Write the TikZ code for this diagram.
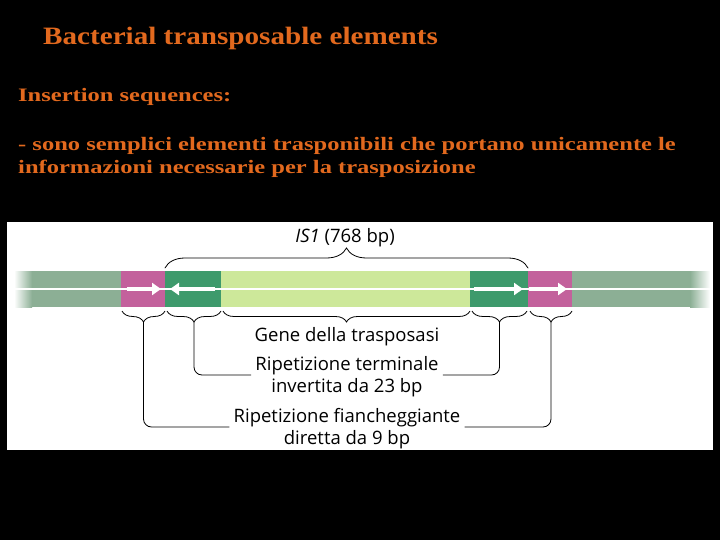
\documentclass[tikz,border=0pt]{standalone}
\usepackage{graphicx}
\usepackage{fontspec}
\setmainfont{Liberation Serif}
\newfontfamily\diagfont{Open Sans}
\usetikzlibrary{arrows.meta,decorations.pathreplacing}
\definecolor{orng}{HTML}{E2691E}
\definecolor{magen}{HTML}{C3619C}
\definecolor{dgreen}{HTML}{3E9A6C}
\definecolor{lgreen}{HTML}{CDE89A}
\definecolor{ggreen}{HTML}{8CAF95}
\newcommand{\wideA}[1]{\scalebox{1.165}[1]{#1}}
\newcommand{\wideB}[1]{\scalebox{1.29}[1]{#1}}
\tikzset{
  title/.style={anchor=base west, inner sep=0pt, text=orng, font=\bfseries\fontsize{25}{30}\selectfont},
  body/.style={anchor=base west, inner sep=0pt, text=orng, font=\bfseries\fontsize{19}{23}\selectfont},
  lab/.style={anchor=base, inner sep=0pt, font=\diagfont\fontsize{18.5}{22}\selectfont},
  warrow/.style={white, line width=4pt, -{Triangle[length=9pt,width=12pt]}},
  bracetop/.style={decorate, decoration={brace, amplitude=20pt}, thick, line cap=round},
  bracebot/.style={decorate, decoration={brace, mirror, amplitude=11pt}, thick},
  conn/.style={thick, rounded corners=8pt}
}
\begin{document}
\begin{tikzpicture}[x=1pt,y=-1pt]
\fill[black] (0,0) rectangle (720,540);
\useasboundingbox (0,0) rectangle (720,540);
% texts
\node[title] (t) at (43,45) {\wideA{Bacterial transposable elements}};
\node[body] (h) at (18,102) {\wideB{Insertion sequences:}};
\node[body] (b1) at (18,151) {\wideB{- sono semplici elementi trasponibili che portano unicamente le}};
\node[body] (b2) at (18,174) {\wideB{informazioni necessarie per la trasposizione}};
% panel
\fill[white] (7,222) rectangle (713,450);
% bar
\shade[left color=white, right color=ggreen] (14,271) rectangle (32,307);
\fill[ggreen] (32,271) rectangle (121,307);
\fill[magen] (121,271) rectangle (165,307);
\fill[dgreen] (165,271) rectangle (221,307);
\fill[lgreen] (221,271) rectangle (470,307);
\fill[dgreen] (470,271) rectangle (528,307);
\fill[magen] (528,271) rectangle (572,307);
\fill[ggreen] (572,271) rectangle (690,307);
\shade[left color=ggreen, right color=white] (690,271) rectangle (710,307);
\draw[white, line width=1.2pt] (14,289) -- (713,289);
% arrows
\coordinate (a1s) at (127,289); \coordinate (a1e) at (161,289);
\coordinate (a2s) at (215,289); \coordinate (a2e) at (170,289);
\coordinate (a3s) at (474,289); \coordinate (a3e) at (523,289);
\coordinate (a4s) at (529,289); \coordinate (a4e) at (567,289);
\draw[warrow] (a1s) -- (a1e);
\draw[warrow] (a2s) -- (a2e);
\draw[warrow] (a3s) -- (a3e);
\draw[warrow] (a4s) -- (a4e);
% top brace
\coordinate (isl) at (165,268); \coordinate (isr) at (528,268);
\draw[bracetop] (isl) -- (isr);
\node[lab] (is) at (345,242) {\textit{IS1} (768 bp)};
% bottom braces
\coordinate (f1l) at (122,311); \coordinate (f1r) at (165,311);
\coordinate (r1l) at (167,311); \coordinate (r1r) at (221,311);
\coordinate (gl) at (223,311); \coordinate (gr) at (470,311);
\coordinate (r2l) at (472,311); \coordinate (r2r) at (527,311);
\coordinate (f2l) at (530,311); \coordinate (f2r) at (572,311);
\draw[bracebot] (f1l) -- (f1r);
\draw[bracebot] (r1l) -- (r1r);
\draw[bracebot] (gl) -- (gr);
\draw[bracebot] (r2l) -- (r2r);
\draw[bracebot] (f2l) -- (f2r);
\coordinate (f1t) at (143.5,322);
\coordinate (r1t) at (194,322);
\coordinate (r2t) at (499.5,322);
\coordinate (f2t) at (551,322);
% labels
\node[lab] (gene) at (347,341) {Gene della trasposasi};
\node[lab] (rip1) at (347,370) {Ripetizione terminale};
\node[lab] (rip2) at (347,392) {invertita da 23 bp};
\node[lab] (fl1) at (347,422) {Ripetizione fiancheggiante};
\node[lab] (fl2) at (347,444) {diretta da 9 bp};
% connectors
\draw[conn] (r1t) |- ([xshift=-4pt,yshift=-5pt]rip1.base west);
\draw[conn] (r2t) |- ([xshift=4pt,yshift=-5pt]rip1.base east);
\draw[conn] (f1t) |- ([xshift=-4pt,yshift=-5pt]fl1.base west);
\draw[conn] (f2t) |- ([xshift=4pt,yshift=-5pt]fl1.base east);
\end{tikzpicture}
\end{document}
